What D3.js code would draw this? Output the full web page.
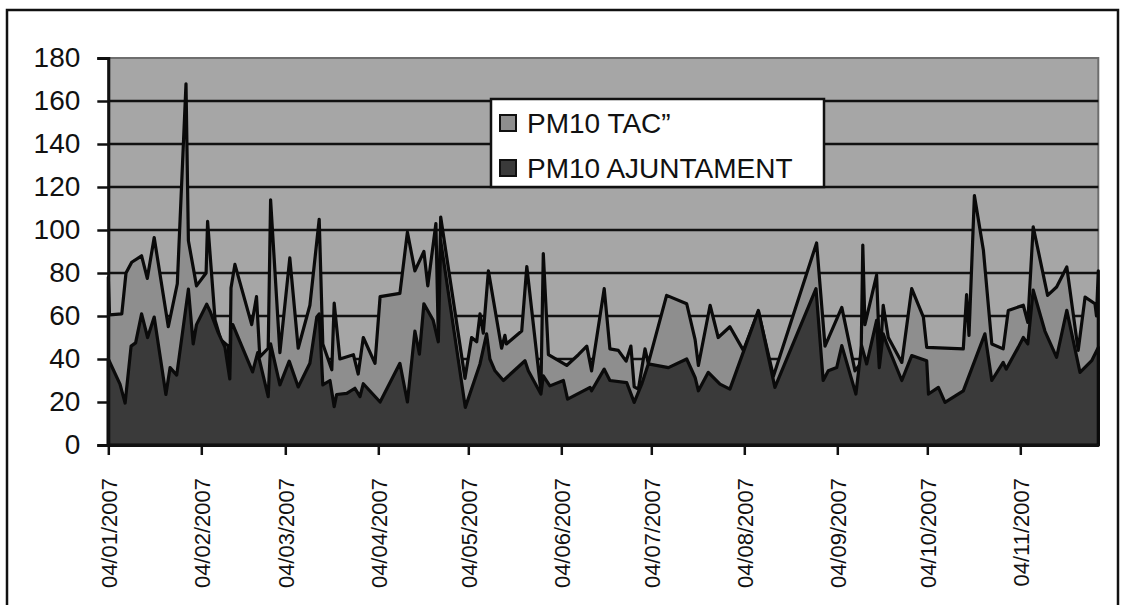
<!DOCTYPE html>
<html><head><meta charset="utf-8">
<script src="https://cdn.jsdelivr.net/npm/d3@7"></script>
<style>
body{margin:0;background:#fff}
text{font-family:"Liberation Sans",Arial,sans-serif;fill:#111}
</style>
</head><body>
<svg id="chart" width="1126" height="605"></svg>
<script>
// ---- data ----
const seriesNames = ["PM10 TAC\u201d", "PM10 AJUNTAMENT"];
const xTickLabels = ["04/01/2007","04/02/2007","04/03/2007","04/04/2007","04/05/2007","04/06/2007","04/07/2007","04/08/2007","04/09/2007","04/10/2007","04/11/2007"];
const yTicks = [0,20,40,60,80,100,120,140,160,180];
const lastDay = 330; // days after 04/01/2007 shown on the axis

// days after 04/01/2007 and PM10 values
const tacDays = [0,0.4,4.5,5.9,7.8,11.1,13,15.3,20,23,25.9,26.7,29.4,32.6,33.1,35.6,37.5,40,40.5,40.9,42.2,47.8,49.4,50.5,53.3,54.1,57.2,60.5,63.3,67.2,70.3,71.5,74.5,75.3,77.2,81.7,83.3,85,88.9,90.6,97.2,99.7,102.2,105.2,106.5,109.2,110,110.8,118.9,121.1,122.8,123.9,125,126.7,131.1,132.2,132.7,137.8,139.5,144.2,145,146.7,152.8,156.7,159.5,161.1,165.3,167.2,170,172.6,174.2,175.3,176.7,178.9,180,186.1,192.8,195.6,196.7,200.6,203.3,207.2,211.7,216.7,221.7,236.1,238.9,244.5,248.9,250.9,251.5,252.2,256.1,257.2,258.3,260,264.5,267.8,271.7,272.8,285,286.1,286.9,288.7,291.7,294.5,298.3,300,305,306.5,308.3,313.1,316.1,319.5,323.3,325.6,328.9,329.4,330];
const tacValues = [78,60.5,61,80,85,88,77.5,96.5,55,75,168,95,74,80,104,58,49,46,31,73,84,56,69,41,45,114,43,87,45,65,105,47,35,66,40,42,33,50,38,69,70.5,99,81,90,74,103,50,106,31,50,48,61,52,81,45,51,47,53,83,25,89,42,37,42,46,34.5,72.7,44.7,44,39,46,27,26,44.7,38,69.6,65.7,49,37,65,50,55,44,62,32,94,46,64,34.5,38,93,56,79,38,65,50,38.4,72.7,59.5,45.4,44.7,70,51,116,90.6,47,44.7,62.6,65,57,101.5,69.6,73.5,82.8,44,68.8,65.7,60,81];

const ajDays = [0,3.9,5.6,7.6,9.1,11.1,13.1,15.3,19.2,20.6,22.8,26.7,28.3,29.4,32.8,34,36.7,38.9,40.5,40.9,41.5,48.1,49.8,53.3,54.1,57.2,60.3,63.3,67.2,69.5,70.3,71.5,73.9,75.3,76.1,79.5,82.2,83.9,85,90.6,97.2,99.7,102.2,103.7,105.2,108.3,110,110.8,119,123.9,126.1,127.2,128.9,131.7,138.9,140,144.2,145,147.2,151.7,153.1,160.6,161.1,165.3,167.2,172.8,175.3,177.8,180,186.7,192.8,195.6,196.7,200,203.9,207.2,216.7,222.2,235.9,238.3,240,242.8,244.5,249.2,251.1,252.8,256.1,257,258.3,259.5,264.5,267.8,271.1,272.8,273.4,276.7,278.9,285,292.2,294.5,298.3,299.3,303.3,305,306.5,308.3,312.2,316.1,319.5,323.9,327.8,330];
const ajValues = [40,28.3,19.5,46,47.5,61,50,59.5,23.5,36,32.5,72.5,47,56,65.5,62,52,45.4,30.7,56,56,34,43,22.5,47,28,39,27,38,59.5,61,28,30,17.8,23.5,24,26.4,22.5,28.5,20,38,20,53,42.3,65.7,58,48,95,17.5,37.7,51.7,40,34.5,30,39.2,34.5,23.7,32.2,27.5,30,21.3,26.8,25.2,35.3,30,29,19.8,28.3,37.7,36,40,31.4,25.2,33.8,28.3,26,62.6,26.8,72.7,30,34.5,36,46.2,23.7,46.2,37.7,58,36,51.7,47,30,41.6,40,39.2,23.7,26.8,19.8,25.2,51.7,30,38.4,35.3,45.4,50,47,72,53,40.8,62.6,33.8,39.2,45.4];

// ---- chart ----
const svg = d3.select("#chart");
const plot = {left: 108.3, right: 1098.3, top: 58, bottom: 445};
const parse = d3.utcParse("%d/%m/%Y");
const t0 = parse(xTickLabels[0]);
const toDate = d => new Date(t0.getTime() + d * 864e5);

const x = d3.scaleUtc().domain([t0, toDate(lastDay)]).range([plot.left, plot.right]);
const y = d3.scaleLinear().domain([0, 180]).range([plot.bottom, plot.top]);

// outer frame
svg.append("path")
  .attr("d", "M7,610 V10 H1118 V610")
  .attr("fill", "none").attr("stroke", "#111").attr("stroke-width", 2.5);

// plot background
svg.append("rect")
  .attr("x", plot.left).attr("y", plot.top)
  .attr("width", plot.right - plot.left).attr("height", plot.bottom - plot.top)
  .attr("fill", "#a6a6a6").attr("stroke", "#6e6e6e").attr("stroke-width", 2);

// grid lines
svg.append("g").selectAll("line")
  .data(yTicks.filter(v => v > 0 && v < 180))
  .join("line")
  .attr("x1", plot.left).attr("x2", plot.right)
  .attr("y1", d => y(d)).attr("y2", d => y(d))
  .attr("stroke", "#111").attr("stroke-width", 2.6);

const tacData = tacDays.map((d, i) => ({date: toDate(d), v: tacValues[i]}));
const ajData = ajDays.map((d, i) => ({date: toDate(d), v: ajValues[i]}));

const area = d3.area()
  .x(d => x(d.date))
  .y0(y(0))
  .y1(d => y(d.v));

const colors = ["#8e8e8e", "#3a3a3a"];

[tacData, ajData].forEach((data, i) => {
  svg.append("path")
    .datum(data)
    .attr("d", d => area(d) + "Z")
    .attr("fill", colors[i])
    .attr("stroke", "#0a0a0a")
    .attr("stroke-width", 3.2)
    .attr("stroke-linejoin", "round");
});

// y axis
const yAxis = svg.append("g")
  .attr("transform", `translate(${plot.left},0)`)
  .call(d3.axisLeft(y).tickValues(yTicks).tickSize(11).tickPadding(17));
yAxis.select(".domain").attr("stroke", "#111").attr("stroke-width", 3);
yAxis.selectAll(".tick line").attr("stroke", "#111").attr("stroke-width", 2.5);
yAxis.selectAll(".tick text").attr("font-size", 28).attr("fill", "#111")
  .attr("font-family", "'Liberation Sans', Arial, sans-serif");

// x axis
const xAxis = svg.append("g")
  .attr("transform", `translate(0,${plot.bottom})`)
  .call(d3.axisBottom(x).tickValues(xTickLabels.map(parse))
    .tickFormat(d3.utcFormat("%d/%m/%Y")).tickSize(10).tickSizeOuter(0));
xAxis.select(".domain").attr("stroke", "#111").attr("stroke-width", 3);
xAxis.selectAll(".tick line").attr("stroke", "#111").attr("stroke-width", 2.5);
xAxis.selectAll(".tick text")
  .attr("font-size", 22).attr("fill", "#111")
  .attr("font-family", "'Liberation Sans', Arial, sans-serif")
  .attr("transform", "rotate(-90)")
  .attr("text-anchor", "end")
  .attr("x", -33).attr("y", 0).attr("dy", "0.36em");

// legend
const lg = svg.append("g");
lg.append("rect")
  .attr("x", 491).attr("y", 99).attr("width", 333).attr("height", 88)
  .attr("fill", "#fff").attr("stroke", "#111").attr("stroke-width", 2.5);
seriesNames.forEach((name, i) => {
  const cy = 123 + i * 45;
  lg.append("rect")
    .attr("x", 500).attr("y", cy - 8).attr("width", 16).attr("height", 16)
    .attr("fill", colors[i]).attr("stroke", "#111").attr("stroke-width", 2);
  lg.append("text")
    .attr("x", 527).attr("y", cy).attr("dy", "0.36em")
    .attr("font-size", 28)
    .text(name);
});
</script>
</body></html>
